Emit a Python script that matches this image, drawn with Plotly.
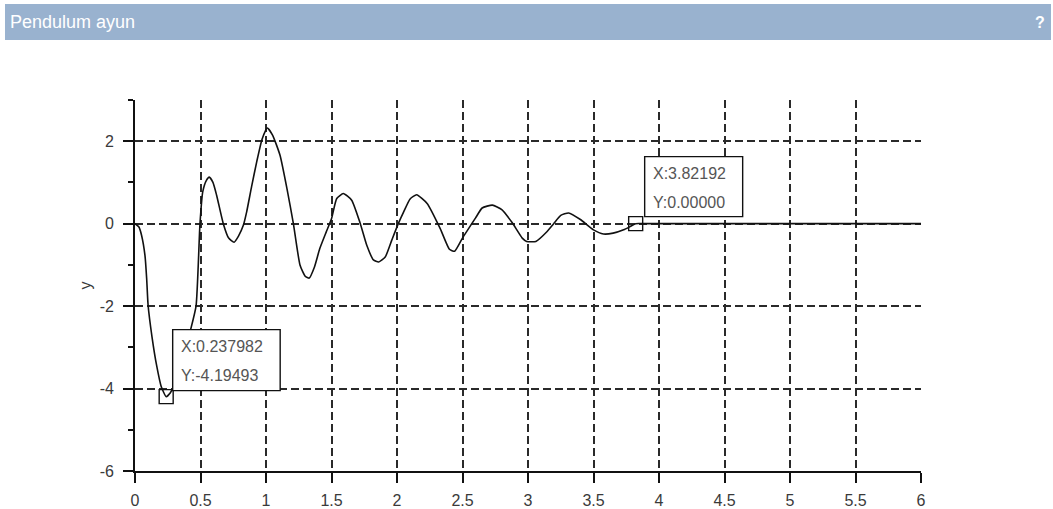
import plotly.graph_objects as go

# ---- data ----
t = [0, 0.03, 0.05, 0.076, 0.089, 0.10, 0.13, 0.165, 0.2, 0.237982, 0.27, 0.32, 0.37, 0.42, 0.466,
     0.496, 0.517, 0.545, 0.567, 0.595, 0.623, 0.674, 0.715, 0.756, 0.79, 0.827, 0.852, 0.89, 0.929,
     0.97, 1.01, 1.05, 1.107, 1.16, 1.209, 1.26, 1.30, 1.33, 1.37, 1.41, 1.46, 1.50, 1.54, 1.59,
     1.654, 1.72, 1.77, 1.82, 1.86, 1.91, 1.96, 2.01, 2.05, 2.10, 2.15, 2.23, 2.33, 2.40, 2.44,
     2.5, 2.60, 2.65, 2.728, 2.80, 2.88, 2.956, 2.99, 3.06, 3.146, 3.196, 3.25, 3.31, 3.40, 3.50,
     3.576, 3.65, 3.73, 3.78, 3.82192, 3.9, 4.5, 5.0, 6.0]
y = [0, -0.08, -0.28, -0.77, -1.33, -1.98, -2.75, -3.44, -3.95, -4.19493, -4.1, -3.75, -3.25, -2.63, -2.0,
     0.0, 0.77, 1.05, 1.13, 1.0, 0.69, 0.0, -0.35, -0.45, -0.3, -0.04, 0.28, 0.9, 1.5,
     2.05, 2.32, 2.15, 1.66, 0.85, 0.0, -1.01, -1.28, -1.32, -1.05, -0.61, -0.2, 0.12, 0.61, 0.73,
     0.57, 0.0, -0.53, -0.88, -0.93, -0.81, -0.4, 0.0, 0.28, 0.6, 0.70, 0.49, -0.12, -0.62, -0.67,
     -0.35, 0.14, 0.38, 0.45, 0.34, 0.02, -0.35, -0.43, -0.43, -0.19, 0.0, 0.2, 0.26, 0.10, -0.15,
     -0.25, -0.23, -0.15, -0.07, 0.0, 0.0, 0.0, 0.0, 0.0]

tip_x = [0.237982, 3.82192]
tip_y = [-4.19493, 0.0]
tip_labels = [["X:0.237982", "Y:-4.19493"], ["X:3.82192", "Y:0.00000"]]

x_ticks = [0, 0.5, 1, 1.5, 2, 2.5, 3, 3.5, 4, 4.5, 5, 5.5, 6]
x_ticktext = ["0", "0.5", "1", "1.5", "2", "2.5", "3", "3.5", "4", "4.5", "5", "5.5", "6"]
y_ticks = [-6, -4, -2, 0, 2]
y_ticktext = ["-6", "-4", "-2", "0", "2"]
y_minor = [-5, -3, -1, 1, 3]

title_text = "Pendulum ayun"

# ---- figure ----
FONT = "Liberation Sans, Arial, sans-serif"
fig = go.Figure()
fig.add_trace(go.Scatter(x=t, y=y, mode="lines",
                         line=dict(color="#111111", width=1.6, shape="spline", smoothing=0.5),
                         hoverinfo="skip", showlegend=False))
fig.add_trace(go.Scatter(x=tip_x, y=tip_y, mode="markers",
                         marker=dict(symbol="square-open", size=14, color="#111111",
                                     line=dict(width=1.4, color="#111111")),
                         hoverinfo="skip", showlegend=False))

# tooltip boxes (pixel-sized, anchored on data points)
box_offsets = [(6.5, 114, 6, 67), (9, 107, 7, 67)]
text_dx = [13, 15]
shapes = []
annotations = []
for i in range(len(tip_x)):
    dx0, dx1, dy0, dy1 = box_offsets[i]
    shapes.append(dict(type="rect", xref="x", yref="y", xsizemode="pixel", ysizemode="pixel",
                       xanchor=tip_x[i], yanchor=tip_y[i], x0=dx0, x1=dx1, y0=dy0, y1=dy1,
                       line=dict(color="#111111", width=1.4), fillcolor="white", layer="above"))
    for j, (lab, shift) in enumerate(zip(tip_labels[i], [50, 21])):
        annotations.append(dict(x=tip_x[i], y=tip_y[i], xref="x", yref="y", text=lab,
                                showarrow=False, xanchor="left", yanchor="middle",
                                xshift=text_dx[i], yshift=shift,
                                font=dict(family=FONT, size=16, color="#555555")))

# header band
shapes.append(dict(type="rect", xref="paper", yref="paper", x0=-0.1654, x1=1.1654,
                   y0=1.1617, y1=1.2588, line=dict(width=0), fillcolor="#99b2cf", layer="below"))
annotations.append(dict(xref="paper", yref="paper", x=-0.1616, y=1.2102, text=title_text,
                        showarrow=False, xanchor="left", yanchor="middle",
                        font=dict(family=FONT, size=18, color="white")))
annotations.append(dict(xref="paper", yref="paper", x=1.1600, y=1.2102, text="<b>?</b>",
                        showarrow=False, xanchor="right", yanchor="middle",
                        font=dict(family=FONT, size=16, color="white")))

fig.update_layout(
    width=1053, height=509,
    margin=dict(l=135, r=132, t=100, b=38, autoexpand=False),
    paper_bgcolor="white", plot_bgcolor="white",
    shapes=shapes, annotations=annotations,
    font=dict(family=FONT, size=16, color="#3a3a3a"),
)
fig.update_xaxes(range=[0, 6], tickvals=x_ticks, ticktext=x_ticktext, automargin=False,
                 showline=True, linecolor="#111111", linewidth=1.8,
                 ticks="outside", ticklen=10, tickcolor="#111111", tickwidth=1.5,
                 ticklabelstandoff=4,
                 showgrid=True, gridcolor="#2a2a2a", gridwidth=1.8, griddash="8px,4px",
                 zeroline=False, fixedrange=True)
fig.update_yaxes(range=[-6, 3], tickvals=y_ticks, ticktext=y_ticktext, automargin=False,
                 showline=True, linecolor="#111111", linewidth=1.8,
                 ticks="outside", ticklen=10, tickcolor="#111111", tickwidth=1.5,
                 ticklabelstandoff=6,
                 minor=dict(tickvals=y_minor, ticks="outside", ticklen=5,
                            tickcolor="#111111", showgrid=False),
                 showgrid=True, gridcolor="#2a2a2a", gridwidth=1.8, griddash="8px,4px",
                 zeroline=False, fixedrange=True,
                 title=dict(text="y", standoff=4, font=dict(size=16, color="#3a3a3a")))

fig.write_html("out.html")
